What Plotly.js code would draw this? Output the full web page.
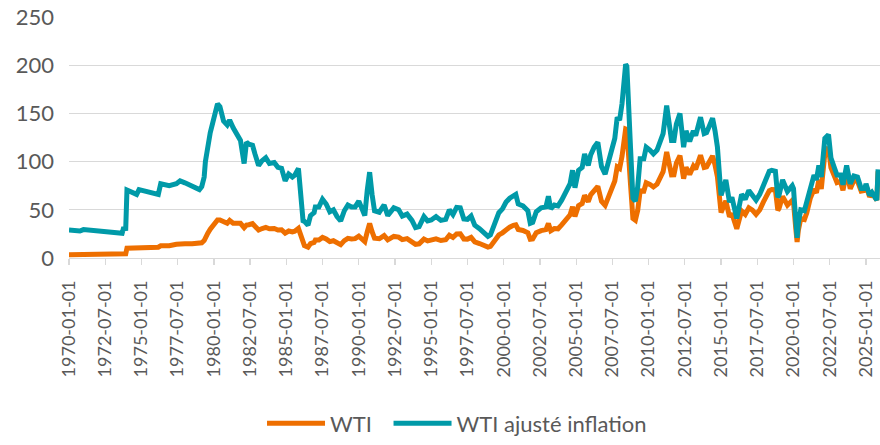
<!DOCTYPE html>
<html>
<head>
<meta charset="utf-8">
<script src="https://cdn.plot.ly/plotly-3.0.1.min.js"></script>
<style>
html,body{margin:0;padding:0;background:#fff;}
#chart{width:880px;height:445px;}
</style>
</head>
<body>
<div id="chart"></div>
<script>
// Dates (monthly observations sampled from the chart)
var dates = [
"1970-01-01","1970-06-01","1970-10-01","1971-01-01","1971-06-01","1972-01-01","1972-07-01","1973-01-01","1973-06-01","1973-09-01","1973-10-01","1973-12-01",
"1974-01-01","1974-06-01","1974-09-01","1974-11-01","1975-06-01","1976-01-01","1976-03-01","1976-05-01","1976-12-01","1977-06-01","1977-09-01","1978-01-01","1978-07-01",
"1979-01-01","1979-03-01","1979-05-01","1979-06-01","1979-08-01","1979-10-01","1979-12-01","1980-02-01","1980-04-01","1980-06-01","1980-09-01","1980-12-01",
"1981-02-01","1981-05-01","1981-08-01","1981-11-01","1982-02-01","1982-04-01","1982-06-01","1982-09-01","1982-11-01","1983-02-01","1983-05-01","1983-08-01","1983-11-01",
"1984-03-01","1984-06-01","1984-09-01","1984-12-01","1985-03-01","1985-06-01","1985-08-01","1985-11-01","1986-01-01","1986-03-01","1986-04-01","1986-07-01","1986-09-01","1986-12-01",
"1987-01-01","1987-04-01","1987-07-01","1987-10-01","1988-01-01","1988-04-01","1988-07-01","1988-10-01","1989-01-01","1989-04-01","1989-07-01","1989-10-01",
"1990-01-01","1990-03-01","1990-06-01","1990-08-01","1990-10-01","1990-12-01","1991-02-01","1991-06-01","1991-10-01","1992-01-01","1992-06-01","1992-10-01",
"1993-01-01","1993-05-01","1993-09-01","1993-12-01","1994-03-01","1994-07-01","1994-10-01","1995-01-01","1995-05-01","1995-09-01",
"1996-01-01","1996-04-01","1996-07-01","1996-10-01","1997-01-01","1997-04-01","1997-07-01","1997-10-01","1998-01-01","1998-05-01","1998-08-01","1998-12-01",
"1999-02-01","1999-05-01","1999-09-01","1999-12-01","2000-03-01","2000-06-01","2000-09-01","2000-11-01","2001-01-01","2001-05-01","2001-09-01","2001-11-01",
"2002-01-01","2002-04-01","2002-08-01","2002-12-01","2003-02-01","2003-04-01","2003-07-01","2003-10-01","2004-01-01","2004-05-01","2004-08-01","2004-10-01","2004-12-01",
"2005-03-01","2005-06-01","2005-08-01","2005-11-01","2006-01-01","2006-04-01","2006-07-01","2006-10-01","2007-01-01","2007-04-01","2007-07-01","2007-09-01","2007-11-01",
"2008-01-01","2008-03-01","2008-05-01","2008-06-01","2008-07-01","2008-09-01","2008-10-01","2008-12-01","2009-02-01","2009-04-01","2009-06-01","2009-09-01","2009-11-01",
"2010-02-01","2010-05-01","2010-08-01","2010-11-01","2011-01-01","2011-04-01","2011-06-01","2011-08-01","2011-10-01","2011-12-01",
"2012-03-01","2012-06-01","2012-08-01","2012-11-01","2013-02-01","2013-04-01","2013-08-01","2013-11-01","2014-01-01","2014-04-01","2014-06-01","2014-08-01","2014-10-01","2014-12-01",
"2015-01-01","2015-05-01","2015-08-01","2015-10-01","2015-12-01","2016-02-01","2016-06-01","2016-09-01","2016-12-01","2017-03-01","2017-06-01","2017-09-01","2017-12-01",
"2018-02-01","2018-05-01","2018-07-01","2018-10-01","2018-12-01","2019-01-01","2019-04-01","2019-08-01","2019-12-01","2020-01-01","2020-03-01","2020-04-01","2020-05-01","2020-07-01","2020-10-01","2020-12-01",
"2021-03-01","2021-06-01","2021-08-01","2021-10-01","2021-12-01","2022-02-01","2022-03-01","2022-06-01","2022-08-01","2022-11-01",
"2023-01-01","2023-04-01","2023-06-01","2023-09-01","2023-12-01","2024-03-01","2024-06-01","2024-09-01","2024-12-01","2025-01-01","2025-04-01","2025-06-01","2025-08-01","2025-10-01","2025-11-01"
];

var wti = [
3.35,3.35,3.35,3.56,3.56,3.56,3.56,3.56,3.56,3.66,4.31,4.31,
10.11,10.11,10.11,11.16,11.16,11.16,11.16,12.6,12.7,14.3,14.85,14.85,14.85,
14.85,15.85,18.1,21.75,25.8,29.9,32.5,37.0,39.5,39.5,37.0,36.0,
38.9,36.0,36.0,36.0,31.5,34.2,34.5,35.6,33.0,29.0,30.6,31.7,30.3,
30.6,29.0,29.3,25.8,28.0,27.1,27.8,30.8,22.9,12.6,12.8,11.2,14.9,16.1,
18.7,18.7,21.4,19.8,17.0,17.9,15.5,13.9,18.0,20.4,19.8,20.1,
22.7,20.2,17.1,27.2,35.9,27.3,20.5,20.0,23.3,18.8,22.4,21.7,
19.1,20.1,17.5,14.2,14.7,19.6,17.7,18.1,19.9,18.1,
18.9,23.6,21.3,25.0,25.2,19.7,19.6,21.4,16.7,15.0,13.4,11.3,
12.0,17.8,23.9,26.1,29.9,32.0,33.9,34.4,29.6,28.6,26.2,19.4,
19.7,26.2,28.4,29.4,35.8,28.3,30.6,30.3,34.3,40.3,44.9,53.1,43.2,
54.3,56.5,65.0,58.3,65.5,70.9,74.4,58.9,54.6,63.9,74.1,79.9,94.6,
93.0,105.5,125.4,133.9,133.4,104.1,76.6,41.1,39.2,49.6,69.6,69.4,78.1,
76.4,73.7,76.6,84.3,89.6,110.0,96.3,86.3,86.4,98.6,
106.2,82.3,94.1,86.7,95.3,92.0,106.6,93.9,94.6,102.1,105.8,96.5,84.4,59.3,
47.2,59.3,42.9,46.2,37.2,30.3,48.8,45.2,52.0,49.7,45.2,49.8,57.9,
62.2,69.9,71.0,70.8,49.5,51.4,63.9,54.8,59.8,57.5,29.2,16.5,28.6,40.7,39.9,47.0,
62.3,71.4,67.7,81.2,71.7,91.6,108.5,114.8,93.7,84.4,
78.1,79.4,70.3,89.4,71.9,80.4,79.8,69.4,70.1,75.1,63.5,67.3,64.0,60.0,90.0
];

var wtiAdj = [
29.0,28.5,28.0,29.5,29.0,28.5,28.0,27.3,26.0,25.6,30.2,30.5,
70.5,68.0,66.0,71.0,69.0,67.0,66.0,77.0,75.0,77.0,80.0,78.0,75.0,
71.0,74.0,84.0,100.0,117.0,130.0,140.0,152.0,160.0,157.0,142.0,138.0,
143.0,135.0,128.0,122.0,98.0,120.0,118.0,117.0,108.0,96.0,101.0,104.0,98.0,
99.0,94.0,93.0,80.0,87.0,84.0,86.0,93.0,68.0,37.0,38.0,34.0,44.0,47.0,
53.0,53.0,61.0,56.0,48.0,50.0,43.0,38.5,49.0,55.0,53.0,53.0,
59.0,52.0,44.0,70.0,89.0,66.0,49.0,47.5,55.0,44.0,52.0,50.0,
43.5,45.5,39.0,31.5,32.5,43.0,38.5,39.5,43.0,39.0,
40.0,50.0,45.0,52.5,52.0,40.5,40.0,43.5,34.0,30.5,27.0,22.5,
24.0,35.0,47.0,51.0,58.0,62.0,65.0,66.0,56.0,54.0,49.0,36.0,
37.0,48.0,52.0,53.0,64.0,51.0,55.0,54.0,60.0,70.0,77.0,91.0,73.0,
91.0,94.0,108.0,96.0,107.0,115.0,120.0,95.0,87.0,101.0,116.0,124.0,146.0,
143.0,160.0,188.0,201.0,199.0,155.0,115.0,62.0,59.0,74.0,103.0,103.0,115.0,
112.0,108.0,112.0,123.0,129.0,158.0,137.0,122.0,122.0,139.0,
150.0,115.0,132.0,121.0,132.0,127.0,146.0,129.0,130.0,140.0,145.0,132.0,115.0,81.0,
65.0,81.0,58.0,63.0,51.0,41.0,66.0,61.0,70.0,66.0,60.0,66.0,76.0,
81.0,90.0,91.0,90.0,63.0,65.0,81.0,69.0,75.0,72.0,37.0,21.0,36.0,50.0,49.0,58.0,
76.0,86.0,81.0,96.0,84.0,106.0,124.0,128.0,104.0,93.0,
86.0,86.0,76.0,96.0,77.0,85.0,84.0,72.0,72.0,77.0,65.0,68.0,65.0,60.0,92.0
];

var tickDates = ["1970-01-01","1972-07-01","1975-01-01","1977-07-01","1980-01-01","1982-07-01","1985-01-01","1987-07-01","1990-01-01","1992-07-01","1995-01-01","1997-07-01","2000-01-01","2002-07-01","2005-01-01","2007-07-01","2010-01-01","2012-07-01","2015-01-01","2017-07-01","2020-01-01","2022-07-01","2025-01-01"];

var seriesNames = ["WTI", "WTI ajusté inflation"];
var txt = "#595959";
var grid = "#D9D9D9";
var font = "Lato, 'Open Sans', sans-serif";

var traces = [
  {x: dates, y: wti, name: seriesNames[0], type: "scatter", mode: "lines",
   line: {color: "#EE6F00", width: 5}, hoverinfo: "x+y", legend: "legend"},
  {x: dates, y: wtiAdj, name: seriesNames[1], type: "scatter", mode: "lines",
   line: {color: "#009AA8", width: 5}, hoverinfo: "x+y", legend: "legend2"}
];

var legendBase = {orientation: "h", xanchor: "left", y: -0.687, yanchor: "middle",
  font: {family: font, size: 22, color: txt}, itemwidth: 58, bgcolor: "rgba(0,0,0,0)"};

var layout = {
  width: 880, height: 445,
  margin: {l: 69, r: 0, t: 17, b: 182, pad: 0},
  paper_bgcolor: "#fff", plot_bgcolor: "#fff",
  font: {family: font, color: txt, size: 20},
  showlegend: true,
  legend: Object.assign({}, legendBase, {x: 0.238}),
  legend2: Object.assign({}, legendBase, {x: 0.394}),
  xaxis: {
    type: "date", range: ["1970-01-01", "2025-12-20"],
    tickmode: "array", tickvals: tickDates, ticktext: tickDates,
    tickangle: -90, tickfont: {family: font, size: 18, color: txt},
    ticks: "outside", ticklen: 6, tickcolor: grid, tickwidth: 1.3,
    showline: true, linecolor: grid, linewidth: 1.3,
    showgrid: false, zeroline: false, ticklabelstandoff: 8
  },
  yaxis: {
    range: [0, 250], tickmode: "linear", tick0: 0, dtick: 50,
    tickfont: {family: font, size: 22, color: txt},
    showgrid: true, gridcolor: grid, gridwidth: 1.3,
    zeroline: false, showline: false, ticks: "", ticklabelstandoff: 14
  }
};

Plotly.newPlot("chart", traces, layout, {displayModeBar: false, staticPlot: true});
</script>
</body>
</html>
